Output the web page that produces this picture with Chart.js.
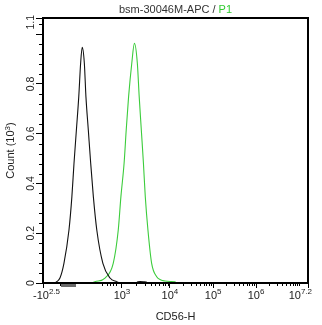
<!DOCTYPE html>
<html>
<head>
<meta charset="utf-8">
<script src="https://cdn.jsdelivr.net/npm/chart.js@4.4.1/dist/chart.umd.min.js"></script>
<style>
  html, body { margin: 0; padding: 0; background: #fff; }
  canvas { display: block; }
</style>
</head>
<body>
<canvas id="c" width="322" height="325"></canvas>
<script>
// Histogram x positions are display channels (0-1000) of the biexponential CD56-H axis,
// y values are event counts in thousands.
const isotypeChannel = [45, 52, 64, 79, 98, 109, 117, 126, 135, 142, 148, 156, 162, 171, 180, 190, 203, 226, 253, 278, 291, 351, 358, 366, 381, 389, 396];
const isotypeCount   = [0, 0.005, 0.02, 0.079, 0.213, 0.347, 0.481, 0.615, 0.749, 0.883, 0.947, 0.883, 0.749, 0.615, 0.481, 0.347, 0.213, 0.079, 0.02, 0.005, 0, 0, 0.005, 0.006, 0.005, 0.004, 0];

const stainedChannel = [185, 196, 234, 265, 284, 294, 306, 314, 323, 335, 345, 356, 363, 371, 379, 386, 396, 410, 429, 445, 460, 480, 498, 502];
const stainedCount   = [0, 0.005, 0.02, 0.079, 0.213, 0.347, 0.481, 0.615, 0.749, 0.883, 0.963, 0.883, 0.749, 0.615, 0.481, 0.347, 0.213, 0.079, 0.025, 0.012, 0.008, 0.006, 0.005, 0];

// Axis labelling
const xMajorChannel = [0, 298, 479, 642, 804, 1000];
const xMajorBase    = ['-10', '10', '10', '10', '10', '10'];
const xMajorExp     = ['2.5', '3', '4', '5', '6', '7.2'];
const xDecadeChannel = [298, 479, 642, 804, 967];          // 10^3 .. 10^7
const xLinearMinor   = [64, 94, 113, 223, 242, 253, 264, 275]; // ticks around zero
const xZeroBand      = [68, 121];                           // dense ticks near zero

const yMajor       = [0, 0.2, 0.4, 0.6, 0.8, 1.0, 1.065];
const yMajorLabels = ['0', '0.2', '0.4', '0.6', '0.8', '', '1.1'];
const yMax = 1.065;

const FONT = "'Liberation Sans', Arial, sans-serif";
const TEXT = '#222';

// minor ticks inside each log decade
const xMinor = [];
for (let i = 0; i < xDecadeChannel.length - 1; i++) {
  const d0 = xDecadeChannel[i], d1 = xDecadeChannel[i + 1];
  for (let k = 2; k <= 9; k++) xMinor.push(d0 + Math.log10(k) * (d1 - d0));
}
xMinor.push(xDecadeChannel[xDecadeChannel.length - 1]);
xLinearMinor.forEach(v => xMinor.push(v));

const yMinor = [];
for (let i = 1; i * 0.04 < yMax; i++) { if (i % 5) yMinor.push(i * 0.04); }

const toPoints = (xs, ys) => xs.map((v, i) => ({ x: v, y: ys[i] }));

function drawSup(ctx, base, sup, cx, baseY, baseSize, supSize, minLeft, maxRight) {
  ctx.font = baseSize + 'px ' + FONT;
  const wb = ctx.measureText(base).width;
  ctx.font = supSize + 'px ' + FONT;
  const ws = ctx.measureText(sup).width;
  let left = cx - (wb + ws) / 2;
  if (minLeft !== undefined) left = Math.max(left, minLeft);
  if (maxRight !== undefined) left = Math.min(left, maxRight - wb - ws);
  ctx.textAlign = 'left';
  ctx.textBaseline = 'alphabetic';
  ctx.font = baseSize + 'px ' + FONT;
  ctx.fillText(base, left, baseY);
  ctx.font = supSize + 'px ' + FONT;
  ctx.fillText(sup, left + wb, baseY - baseSize * 0.45);
}

const decor = {
  id: 'decor',
  afterDraw(chart) {
    const { ctx, chartArea: a, scales: { x, y } } = chart;
    ctx.save();

    // minor tick marks
    ctx.strokeStyle = '#000';
    ctx.lineWidth = 1;
    ctx.beginPath();
    xMinor.forEach(v => {
      const px = Math.round(x.getPixelForValue(v)) + 0.5;
      ctx.moveTo(px, a.bottom); ctx.lineTo(px, a.bottom + 3);
    });
    yMinor.forEach(v => {
      const py = Math.round(y.getPixelForValue(v)) + 0.5;
      ctx.moveTo(a.left, py); ctx.lineTo(a.left - 4, py);
    });
    ctx.stroke();

    // dense band of ticks around zero
    ctx.strokeStyle = '#6a6a6a';
    ctx.beginPath();
    for (let px = Math.round(x.getPixelForValue(xZeroBand[0])); px <= x.getPixelForValue(xZeroBand[1]); px += 1) {
      ctx.moveTo(px + 0.5, a.bottom); ctx.lineTo(px + 0.5, a.bottom + 4);
    }
    ctx.stroke();

    // plot frame
    ctx.strokeStyle = '#000';
    ctx.lineWidth = 2;
    ctx.strokeRect(a.left, a.top, a.right - a.left, a.bottom - a.top);

    ctx.fillStyle = TEXT;

    // x tick labels with exponents
    xMajorChannel.forEach((v, i) => {
      drawSup(ctx, xMajorBase[i], xMajorExp[i], x.getPixelForValue(v), 299, 11, 8, 33, 312);
    });

    // y tick labels, rotated
    ctx.font = '10.5px ' + FONT;
    ctx.textAlign = 'center';
    ctx.textBaseline = 'middle';
    yMajor.forEach((v, i) => {
      const lab = yMajorLabels[i];
      if (!lab) return;
      const half = ctx.measureText(lab).width / 2;
      let py = y.getPixelForValue(v);
      py = Math.min(Math.max(py, a.top + half - 3), a.bottom + half);
      ctx.save();
      ctx.translate(31, py);
      ctx.rotate(-Math.PI / 2);
      ctx.fillText(lab, 0, 0);
      ctx.restore();
    });

    const cx = (a.left + a.right) / 2;

    // title
    ctx.font = '11px ' + FONT;
    ctx.textBaseline = 'alphabetic';
    ctx.textAlign = 'left';
    const t1 = 'bsm-30046M-APC / ', t2 = 'P1';
    const w1 = ctx.measureText(t1).width, w2 = ctx.measureText(t2).width;
    const tl = cx - (w1 + w2) / 2;
    ctx.fillStyle = '#333';
    ctx.fillText(t1, tl, 13);
    ctx.fillStyle = '#33cc33';
    ctx.fillText(t2, tl + w1, 13);

    // axis titles
    ctx.fillStyle = TEXT;
    ctx.font = '11px ' + FONT;
    ctx.textAlign = 'center';
    ctx.fillText('CD56-H', cx, 320);

    ctx.save();
    ctx.translate(14, (a.top + a.bottom) / 2);
    ctx.rotate(-Math.PI / 2);
    ctx.font = '11px ' + FONT;
    const c1 = 'Count (10', c2 = '3', c3 = ')';
    const wc1 = ctx.measureText(c1).width, wc3 = ctx.measureText(c3).width;
    ctx.font = '8px ' + FONT;
    const wc2 = ctx.measureText(c2).width;
    let lx = -(wc1 + wc2 + wc3) / 2;
    ctx.textAlign = 'left';
    ctx.font = '11px ' + FONT;
    ctx.fillText(c1, lx, 0);
    ctx.font = '8px ' + FONT;
    ctx.fillText(c2, lx + wc1, -4);
    ctx.font = '11px ' + FONT;
    ctx.fillText(c3, lx + wc1 + wc2, 0);
    ctx.restore();

    ctx.restore();
  }
};

new Chart(document.getElementById('c'), {
  type: 'line',
  data: {
    datasets: [
      {
        label: 'Isotype',
        data: toPoints(isotypeChannel, isotypeCount),
        borderColor: '#111',
        borderWidth: 1.1,
        pointRadius: 0,
        cubicInterpolationMode: 'monotone',
        fill: false
      },
      {
        label: 'bsm-30046M-APC',
        data: toPoints(stainedChannel, stainedCount),
        borderColor: '#3ccc3c',
        borderWidth: 1.1,
        pointRadius: 0,
        cubicInterpolationMode: 'monotone',
        fill: false
      }
    ]
  },
  options: {
    responsive: false,
    animation: false,
    devicePixelRatio: 1,
    layout: { padding: { left: 0, top: 18, right: 14, bottom: 0 } },
    plugins: { legend: { display: false }, tooltip: { enabled: false }, title: { display: false } },
    scales: {
      x: {
        type: 'linear',
        min: 0,
        max: 1000,
        afterBuildTicks: s => { s.ticks = xMajorChannel.map(v => ({ value: v })); },
        afterFit: s => { s.height = 42; },
        ticks: { display: false },
        border: { display: false },
        grid: { drawOnChartArea: false, drawTicks: true, tickLength: 5, tickColor: '#000', tickWidth: 1 }
      },
      y: {
        type: 'linear',
        min: 0,
        max: yMax,
        afterBuildTicks: s => { s.ticks = yMajor.map(v => ({ value: v })); },
        afterFit: s => { s.width = 43; },
        ticks: { display: false },
        border: { display: false },
        grid: { drawOnChartArea: false, drawTicks: true, tickLength: 7, tickColor: '#000', tickWidth: 1 }
      }
    }
  },
  plugins: [decor]
});
</script>
</body>
</html>
